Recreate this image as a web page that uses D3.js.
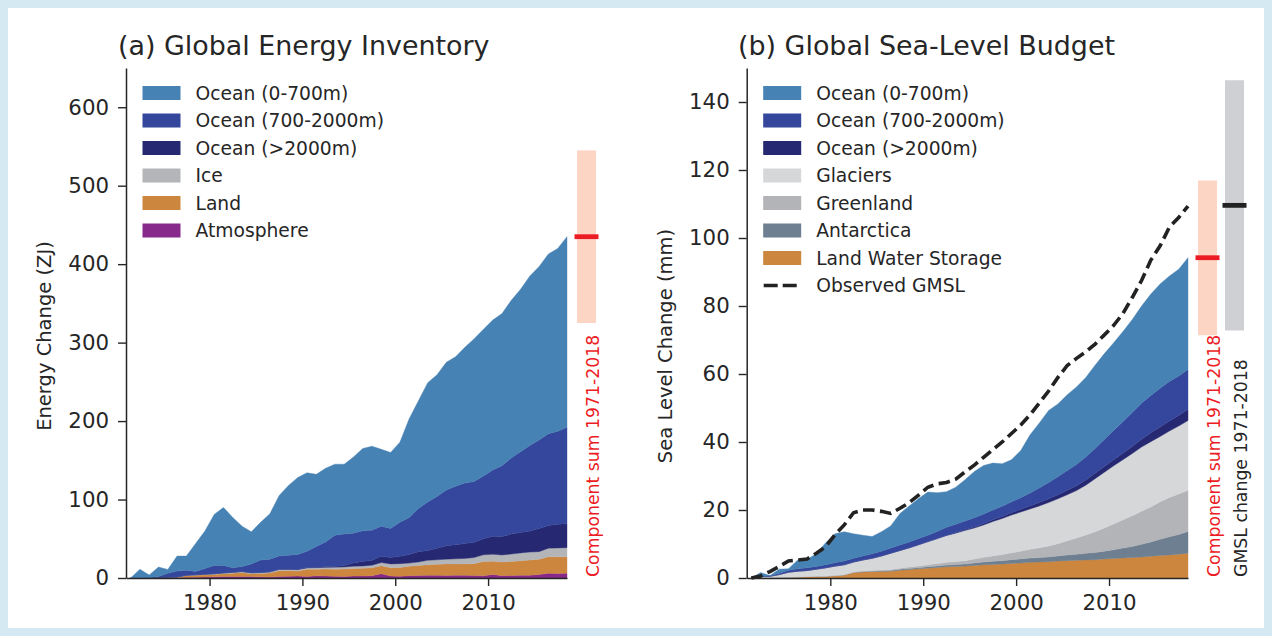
<!DOCTYPE html>
<html>
<head>
<meta charset="utf-8">
<script src="https://cdn.jsdelivr.net/npm/d3@7"></script>
<style>
  html, body { margin: 0; padding: 0; background: #d4e9f1; }
  svg { display: block; }
  text { font-family: "DejaVu Sans", sans-serif; fill: #262626; }
</style>
</head>
<body>
<svg id="chart" width="1272" height="636"></svg>
<script>
// ---------------- DATA ----------------
const years = [1971.5,1972.5,1973.5,1974.5,1975.5,1976.5,1977.5,1978.5,1979.5,1980.5,
  1981.5,1982.5,1983.5,1984.5,1985.5,1986.5,1987.5,1988.5,1989.5,1990.5,
  1991.5,1992.5,1993.5,1994.5,1995.5,1996.5,1997.5,1998.5,1999.5,2000.5,
  2001.5,2002.5,2003.5,2004.5,2005.5,2006.5,2007.5,2008.5,2009.5,2010.5,
  2011.5,2012.5,2013.5,2014.5,2015.5,2016.5,2017.5,2018.5];
const xTicks = [1980, 1990, 2000, 2010];

// (a) Global Energy Inventory, ZJ
const energyAtmosphere = [0,0.1,0.1,0.2,0.2,0.3,0.8,1.0,1.2,1.5,1.8,2.0,2.0,1.8,1.5,1.2,1.8,2.2,2.5,2.0,2.8,2.5,2.2,2.0,2.5,2.5,3.0,5.5,2.5,2.2,3.0,3.2,3.5,3.4,3.2,3.6,3.4,3.2,2.8,4.5,3.0,3.2,3.4,3.6,4.5,6.0,5.6,6.0];
const energyLand = [0,0.1,0.2,0.2,0.3,0.5,2.2,2.5,2.8,3.0,3.7,4.0,5.0,3.7,4.3,5.2,7.6,7.3,6.5,9.0,8.4,9.0,9.1,9.5,9.5,9.8,10.0,10.2,10.5,11.3,12.0,12.8,13.5,14.1,14.8,14.4,14.6,15.1,18.2,16.8,17.4,17.8,18.6,19.4,19.5,21.0,21.4,21.0];
const energyIce = [0,0.1,0.1,0.2,0.3,0.4,0.5,0.6,0.8,0.9,1.0,1.2,1.3,1.2,1.3,1.5,1.7,1.6,1.8,2.0,2.1,2.2,2.5,2.6,2.9,3.1,3.3,3.9,5.0,4.8,4.0,4.5,5.5,5.7,6.0,6.4,7.0,7.7,8.5,9.0,9.0,9.5,10.0,10.0,9.6,11.0,11.3,11.7];
const energyOceanDeep = [0,0,0,0,0,0,0,0,0,0,0,0,0,0,0,0,0,0,0.2,0.3,0.4,0.5,0.8,1.9,4.2,5.7,6.2,8.1,8.0,9.4,11.0,13.1,12.5,14.8,17.0,18.1,19.0,19.5,20.5,23.0,23.6,25.5,26.0,27.0,29.4,29.0,30.2,30.3];
const energyOceanMid = [0,0,0,1.3,5.1,7.7,6.4,4.3,7.2,10.6,9.5,5.9,6.3,11.2,15.8,16.1,17.0,17.8,19.0,20.8,26.4,31.8,40.0,40.0,38.0,39.0,38.5,38.3,37.0,43.3,47.0,54.9,62.0,66.0,71.0,74.5,77.0,77.5,80.0,84.4,90.0,97.0,103.0,109.0,113.0,117.0,118.5,123.0];
const energyOceanUpper = [0,10.7,3.5,12,5,19,18,35.5,48,65,74,64,51.5,41,48,58,77,89,98,100,92,94,90.5,89,97,105,107,98,97,102,126,137.5,152,155,163,165,173,182,187,191,194,201,207,216,221,229,233,243];
const energyTicks = [0,100,200,300,400,500,600];
const energySum = { central: 435, low: 325, high: 545 };

// (b) Global Sea-Level Budget, mm
const slLandWater = [0,0.05,0.1,0.2,0.25,0.3,0.4,0.5,0.55,0.7,0.9,1.6,1.8,1.9,1.95,2.0,2.3,2.5,2.7,2.9,3.1,3.3,3.4,3.5,3.7,3.9,4.0,4.1,4.3,4.4,4.6,4.7,4.8,5.0,5.1,5.2,5.3,5.4,5.6,5.7,5.9,6.0,6.2,6.4,6.6,6.8,7.0,7.3];
const slAntarctica = [0,0,0,0,0,0,0,0,0,0,0,0.05,0.1,0.1,0.15,0.2,0.25,0.3,0.35,0.4,0.45,0.5,0.55,0.6,0.7,0.8,0.9,1.0,1.1,1.2,1.25,1.3,1.4,1.5,1.65,1.8,1.95,2.1,2.3,2.6,2.9,3.3,3.7,4.2,4.8,5.3,5.8,6.4];
const slGreenland = [0,0,0,0,0,0,0,0,0,0,0.05,0.1,0.15,0.2,0.25,0.3,0.35,0.4,0.5,0.6,0.7,0.8,0.9,1.0,1.2,1.4,1.6,1.8,2.0,2.3,2.6,2.9,3.2,3.6,4.2,4.8,5.4,6.1,6.8,7.6,8.3,9.0,9.7,10.3,11.0,11.6,11.9,12.1];
const slGlaciers = [0,0.35,0.4,0.8,1.45,1.7,1.8,2.1,2.45,2.8,2.95,2.95,3.25,3.6,4.15,4.8,5.2,5.7,6.25,6.8,7.35,7.9,8.35,8.9,9.1,9.5,10.1,10.6,11.1,11.5,11.85,12.3,12.8,13.2,13.55,13.9,14.65,15.6,16.4,17.1,17.7,18.3,18.9,19.2,19.2,19.5,20.0,20.5];
const slOceanDeep = [0,0,0,0,0,0,0,0,0,0,0,0,0,0,0,0,0,0,0,0,0,0.1,0.1,0.2,0.3,0.4,0.5,0.6,0.7,0.8,0.9,1.0,1.1,1.2,1.3,1.4,1.5,1.6,1.7,1.8,1.9,2.1,2.3,2.6,2.8,3.0,3.1,3.3];
const slOceanMid = [0,0.1,0.1,0.4,0.6,0.7,0.8,0.8,0.9,1.0,1.1,1.1,1.2,1.3,1.4,1.5,1.6,1.7,1.8,1.9,2.1,2.3,2.5,2.6,2.7,2.8,2.9,3.0,3.2,3.4,3.8,4.3,4.8,5.3,5.8,6.3,6.8,7.3,7.9,8.6,9.3,10.0,10.6,11.0,11.4,11.6,11.6,11.7];
const slOceanUpper = [0,1.1,0.1,1.2,0.4,2.6,2.5,3.7,6.5,8.5,8.6,7.2,6.1,5.1,5.7,6.5,9.3,10.6,11.8,12.7,11.4,10.5,10.9,12.1,13.6,14.3,13.8,12.5,12.4,13.9,17.1,19.1,21.2,21.4,22.3,22.8,23.4,24.5,25.3,25.8,26.5,27.3,28.6,29.8,30.7,31.0,31.4,32.9];
const slObservedGMSL = [0,0.6,1.9,3.4,5.0,5.3,5.6,7.3,9.2,12.7,15.6,19.2,20.0,20.0,19.6,19.0,20.5,22.2,24.4,26.7,27.7,28.1,29.1,31.2,33.2,35.5,37.8,40.0,42.5,45.0,48.0,51.5,55.0,59.0,62.5,64.6,66.5,68.8,71.5,74.3,77.8,82.5,87.5,93.5,97.7,103.2,106.0,109.4];
const slTicks = [0,20,40,60,80,100,120,140];
const slComponentSum = { central: 94.2, low: 71.4, high: 116.9 };
const slObservedChange = { central: 109.6, low: 72.8, high: 146.4 };

// ---------------- DRAW ----------------
const svg = d3.select("#chart");
svg.append("rect").attr("x", 8).attr("y", 8).attr("width", 1256).attr("height", 620).attr("fill", "#ffffff");

const INK = "#262626";
const TICK_FONT = 21.3, LEGEND_FONT = 18.7, TITLE_FONT = 26.9, NOTE_FONT = 17.3;

function drawPanel(cfg) {
  const g = svg.append("g");
  const x = d3.scaleLinear().domain([1971, 2018.5]).range([cfg.left, cfg.right]);
  const y = d3.scaleLinear().domain(cfg.yDomain).range([578, 68]);

  // stacked areas
  const rows = years.map((yr, i) => {
    const r = { year: yr };
    cfg.series.forEach(s => { r[s.key] = s.values[i]; });
    return r;
  });
  const stack = d3.stack().keys(cfg.series.map(s => s.key));
  const layers = stack(rows);
  const area = d3.area()
    .x(d => x(d.data.year))
    .y0(d => y(d[0]))
    .y1(d => y(d[1]));
  g.selectAll("path.layer").data(layers).join("path")
    .attr("class", "layer")
    .attr("d", area)
    .attr("fill", (d, i) => cfg.series[i].color)
    .attr("stroke", (d, i) => cfg.series[i].color)
    .attr("stroke-width", 0.4);

  // observed line
  if (cfg.line) {
    const line = d3.line().x((d, i) => x(years[i])).y(d => y(d));
    g.append("path").attr("d", line(cfg.line.values))
      .attr("fill", "none").attr("stroke", "#222222")
      .attr("stroke-width", 3.6).attr("stroke-dasharray", "11.5,5.5");
  }

  // axes
  const yAxis = d3.axisLeft(y).tickValues(cfg.yTicks).tickSize(8).tickSizeOuter(0).tickPadding(9);
  const xAxis = d3.axisBottom(x).tickValues(xTicks).tickFormat(d3.format("d")).tickSize(8).tickSizeOuter(0).tickPadding(9);
  const ya = g.append("g").attr("transform", `translate(${cfg.left},0)`).call(yAxis);
  const xa = g.append("g").attr("transform", `translate(0,578)`).call(xAxis);
  [ya, xa].forEach(a => {
    a.select(".domain").attr("stroke", INK).attr("stroke-width", 1.5);
    a.selectAll(".tick line").attr("stroke", INK).attr("stroke-width", 1.4);
    a.selectAll(".tick text").style("font-family", "DejaVu Sans, sans-serif")
      .style("font-size", TICK_FONT + "px").attr("fill", INK);
  });

  // y label
  g.append("text")
    .attr("transform", `translate(${cfg.yLabelX},${cfg.yLabelY}) rotate(-90)`)
    .attr("text-anchor", "middle").attr("dy", "0.35em")
    .style("font-size", "19.5px")
    .text(cfg.yLabel);

  // title
  g.append("text").attr("x", cfg.titleX).attr("y", 55)
    .style("font-size", TITLE_FONT + "px").text(cfg.title);

  // legend
  cfg.legend.forEach((it, i) => {
    const cy = 93 + i * 27.5;
    if (it.dashed) {
      g.append("line").attr("x1", cfg.left + 17).attr("x2", cfg.left + 55)
        .attr("y1", cy).attr("y2", cy)
        .attr("stroke", "#222222").attr("stroke-width", 3.6).attr("stroke-dasharray", "14,5");
    } else {
      g.append("rect").attr("x", cfg.left + 16.5).attr("y", cy - 7)
        .attr("width", 38).attr("height", 14).attr("fill", it.color);
    }
    g.append("text").attr("x", cfg.left + 69.5).attr("y", cy).attr("dy", "0.36em")
      .style("font-size", LEGEND_FONT + "px").text(it.label);
  });

  // range bars
  cfg.bars.forEach(b => {
    g.append("rect").attr("x", b.cx - 9.5).attr("width", 19)
      .attr("y", y(b.range.high)).attr("height", y(b.range.low) - y(b.range.high))
      .attr("fill", b.fill);
    g.append("rect").attr("x", b.cx - 12).attr("width", 24)
      .attr("y", y(b.range.central) - 2.4).attr("height", 4.8)
      .attr("fill", b.mark);
    g.append("text")
      .attr("transform", `translate(${b.textX},577) rotate(-90)`)
      .attr("dy", "0.35em").attr("text-anchor", "start")
      .style("font-size", NOTE_FONT + "px")
      .style("fill", b.textColor)
      .text(b.text);
  });
}

const C_UP = "#4682b4", C_MID = "#34479c", C_DEEP = "#262872";

drawPanel({
  left: 126, right: 567, yDomain: [0, 650], yTicks: energyTicks,
  title: "(a) Global Energy Inventory", titleX: 118,
  yLabel: "Energy Change (ZJ)", yLabelX: 44, yLabelY: 336,
  series: [
    { key: "atm", values: energyAtmosphere, color: "#87298a" },
    { key: "land", values: energyLand, color: "#cd863d" },
    { key: "ice", values: energyIce, color: "#b4b5b9" },
    { key: "deep", values: energyOceanDeep, color: C_DEEP },
    { key: "mid", values: energyOceanMid, color: C_MID },
    { key: "up", values: energyOceanUpper, color: C_UP }
  ],
  legend: [
    { label: "Ocean (0-700m)", color: C_UP },
    { label: "Ocean (700-2000m)", color: C_MID },
    { label: "Ocean (>2000m)", color: C_DEEP },
    { label: "Ice", color: "#b4b5b9" },
    { label: "Land", color: "#cd863d" },
    { label: "Atmosphere", color: "#87298a" }
  ],
  bars: [
    { cx: 586.5, range: energySum, fill: "#fcd5c5", mark: "#ec1c24",
      textX: 593, text: "Component sum 1971-2018", textColor: "#ec1c24" }
  ]
});

drawPanel({
  left: 746.7, right: 1188, yDomain: [0, 150], yTicks: slTicks,
  title: "(b) Global Sea-Level Budget", titleX: 738,
  yLabel: "Sea Level Change (mm)", yLabelX: 665, yLabelY: 346,
  series: [
    { key: "lws", values: slLandWater, color: "#cd863d" },
    { key: "ant", values: slAntarctica, color: "#6d7f90" },
    { key: "grl", values: slGreenland, color: "#b3b4b8" },
    { key: "gla", values: slGlaciers, color: "#d6d7d9" },
    { key: "deep", values: slOceanDeep, color: C_DEEP },
    { key: "mid", values: slOceanMid, color: C_MID },
    { key: "up", values: slOceanUpper, color: C_UP }
  ],
  line: { values: slObservedGMSL },
  legend: [
    { label: "Ocean (0-700m)", color: C_UP },
    { label: "Ocean (700-2000m)", color: C_MID },
    { label: "Ocean (>2000m)", color: C_DEEP },
    { label: "Glaciers", color: "#d6d7d9" },
    { label: "Greenland", color: "#b3b4b8" },
    { label: "Antarctica", color: "#6d7f90" },
    { label: "Land Water Storage", color: "#cd863d" },
    { label: "Observed GMSL", dashed: true }
  ],
  bars: [
    { cx: 1207.5, range: slComponentSum, fill: "#fcd5c5", mark: "#ec1c24",
      textX: 1214, text: "Component sum 1971-2018", textColor: "#ec1c24" },
    { cx: 1234.5, range: slObservedChange, fill: "#cfd0d3", mark: "#222222",
      textX: 1241, text: "GMSL change 1971-2018", textColor: "#262626" }
  ]
});
</script>
</body>
</html>
